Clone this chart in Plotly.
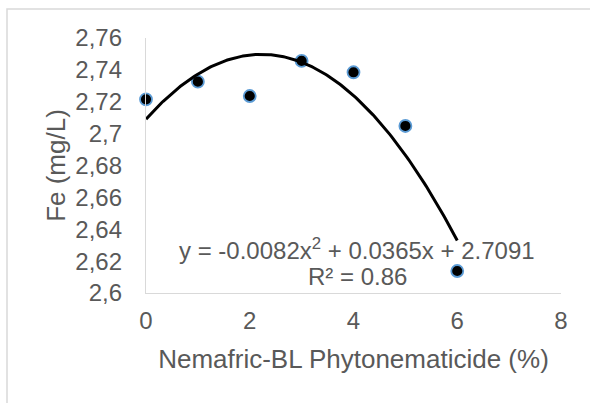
import numpy as np
import plotly.graph_objects as go

# Nemafric-BL concentration (%) and Fe content (mg/L)
dose = [0, 1, 2, 3, 4, 5, 6]
fe = [2.7215, 2.7326, 2.7236, 2.7456, 2.7385, 2.7048, 2.6138]

# Polynomial (order 2) trendline coefficients and fit quality
coef_a = -0.0082
coef_b = 0.0365
coef_c = 2.7091
r_squared = 0.86

# Axis ticks
x_ticks = [0, 2, 4, 6, 8]
y_ticks = [2.6, 2.62, 2.64, 2.66, 2.68, 2.7, 2.72, 2.74, 2.76]
y_tick_text = ["2,6", "2,62", "2,64", "2,66", "2,68", "2,7", "2,72", "2,74", "2,76"]

grey = "#595959"
axis_grey = "#d9d9d9"
font = "Liberation Sans, Arial, sans-serif"

xs = np.linspace(min(dose), max(dose), 200)
ys = coef_a * xs ** 2 + coef_b * xs + coef_c

fig = go.Figure()
fig.add_trace(go.Scatter(
    x=dose, y=fe, mode="markers",
    marker=dict(size=12, color="black", line=dict(color="#5b9bd5", width=1.8)),
    showlegend=False, cliponaxis=False,
))
fig.add_trace(go.Scatter(
    x=xs, y=ys, mode="lines",
    line=dict(color="black", width=3),
    showlegend=False, cliponaxis=False,
))

fig.add_annotation(
    x=0.508, y=(293 - 249) / 255, xref="paper", yref="paper",
    text=f"y = {coef_a}x<sup>2</sup> + {coef_b}x + {coef_c}",
    showarrow=False, font=dict(family=font, size=24, color=grey),
    xanchor="center", yanchor="middle",
)
fig.add_annotation(
    x=0.51, y=(293 - 276) / 255, xref="paper", yref="paper",
    text=f"R² = {r_squared}",
    showarrow=False, font=dict(family=font, size=24, color=grey),
    xanchor="center", yanchor="middle",
)

# Chart-area border (left and top edges visible within the page)
fig.add_shape(
    type="rect", xref="paper", yref="paper",
    x0=(7 - 146) / 415, x1=1.2, y0=-0.6, y1=(293 - 9) / 255,
    line=dict(color=axis_grey, width=1.5), fillcolor="rgba(0,0,0,0)",
    layer="below",
)

fig.update_layout(
    width=590, height=403,
    margin=dict(l=146, r=29, t=38, b=110),
    paper_bgcolor="white", plot_bgcolor="white",
    font=dict(family=font, color=grey),
    xaxis=dict(
        range=[0, 8], tickvals=x_ticks, showgrid=False, zeroline=False,
        showline=True, linecolor=axis_grey, linewidth=1.3,
        ticks="", ticklabelstandoff=6,
        tickfont=dict(family=font, size=24, color=grey),
        title=dict(text="Nemafric-BL Phytonematicide (%)",
                   font=dict(family=font, size=26, color=grey), standoff=16),
    ),
    yaxis=dict(
        range=[2.6, 2.76], tickvals=y_ticks, ticktext=y_tick_text,
        showgrid=False, zeroline=False,
        showline=True, linecolor=axis_grey, linewidth=1.3,
        ticks="", ticklabelstandoff=18,
        tickfont=dict(family=font, size=24, color=grey),
        title=dict(text="Fe (mg/L)",
                   font=dict(family=font, size=26, color=grey), standoff=2),
    ),
)

fig.write_html("out.html")
